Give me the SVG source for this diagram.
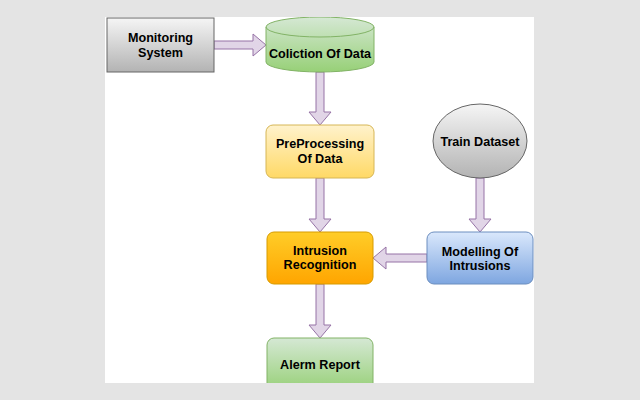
<svg xmlns="http://www.w3.org/2000/svg" width="640" height="400" viewBox="0 0 640 400">
<defs>
<linearGradient id="gGray" x1="0" y1="0" x2="0" y2="1"><stop offset="0" stop-color="#f5f5f5"/><stop offset="1" stop-color="#b3b3b3"/></linearGradient>
<linearGradient id="gGreen" x1="0" y1="0" x2="0" y2="1"><stop offset="0" stop-color="#d5e8d4"/><stop offset="1" stop-color="#97d077"/></linearGradient>
<linearGradient id="gYellow" x1="0" y1="0" x2="0" y2="1"><stop offset="0" stop-color="#fff2cc"/><stop offset="1" stop-color="#ffd966"/></linearGradient>
<linearGradient id="gOrange" x1="0" y1="0" x2="0" y2="1"><stop offset="0" stop-color="#ffcd28"/><stop offset="1" stop-color="#ffa500"/></linearGradient>
<linearGradient id="gBlue" x1="0" y1="0" x2="0" y2="1"><stop offset="0" stop-color="#dae8fc"/><stop offset="1" stop-color="#7ea6e0"/></linearGradient>
<clipPath id="panel"><rect x="105" y="17" width="429" height="366"/></clipPath>
</defs>
<style>
text{font-family:"Liberation Sans",Arial,Helvetica,sans-serif;font-size:12.6px;font-weight:bold;fill:#000;text-anchor:middle}
.arrow{fill:#e1d5e7;stroke:#9673a6;stroke-width:1}
</style>
<rect x="0" y="0" width="640" height="400" fill="#e4e4e4"/>
<rect x="105" y="17" width="429" height="366" fill="#ffffff"/>
<g clip-path="url(#panel)">
<g id="connectors">
<polygon class="arrow" points="214,41 253,41 253,34 266,45 253,56 253,49 214,49"/>
<polygon class="arrow" points="316,72 316,112 309,112 320,125 331,112 324,112 324,72"/>
<polygon class="arrow" points="316,178 316,219 309,219 320,232 331,219 324,219 324,178"/>
<polygon class="arrow" points="316,284 316,325 309,325 320,338 331,325 324,325 324,284"/>
<polygon class="arrow" points="476,178 476,219 469,219 480,232 491,219 484,219 484,178"/>
<polygon class="arrow" points="427,254 386,254 386,247 373,258 386,269 386,262 427,262"/>
</g>
<g id="monitoring">
<rect x="107" y="18" width="107" height="54" fill="url(#gGray)" stroke="#666666"/>
<text x="160.5" y="42">Monitoring</text>
<text x="160.5" y="57">System</text>
</g>
<g id="collection">
<path d="M266,27 a54,10 0 0,1 108,0 v35 a54,10 0 0,1 -108,0 z" fill="url(#gGreen)" stroke="#82b366"/>
<path d="M266,27 a54,10 0 0,0 108,0" fill="none" stroke="#82b366"/>
<text x="320" y="58">Coliction Of Data</text>
</g>
<g id="preprocessing">
<rect x="266" y="125" width="108" height="53" rx="7" fill="url(#gYellow)" stroke="#d6b656"/>
<text x="320" y="148">PreProcessing</text>
<text x="320" y="163">Of Data</text>
</g>
<g id="recognition">
<rect x="267" y="232" width="106" height="52" rx="7" fill="url(#gOrange)" stroke="#d79b00"/>
<text x="320" y="255">Intrusion</text>
<text x="320" y="269">Recognition</text>
</g>
<g id="alert">
<rect x="267" y="338" width="106" height="53" rx="7" fill="url(#gGreen)" stroke="#82b366"/>
<text x="320" y="369">Alerm Report</text>
</g>
<g id="modelling">
<rect x="427" y="232" width="106" height="52" rx="7" fill="url(#gBlue)" stroke="#6c8ebf"/>
<text x="480" y="256">Modelling Of</text>
<text x="480" y="270">Intrusions</text>
</g>
<g id="train">
<ellipse cx="480" cy="141" rx="47" ry="37" fill="url(#gGray)" stroke="#666666"/>
<text x="480" y="146">Train Dataset</text>
</g>
</g>
</svg>
